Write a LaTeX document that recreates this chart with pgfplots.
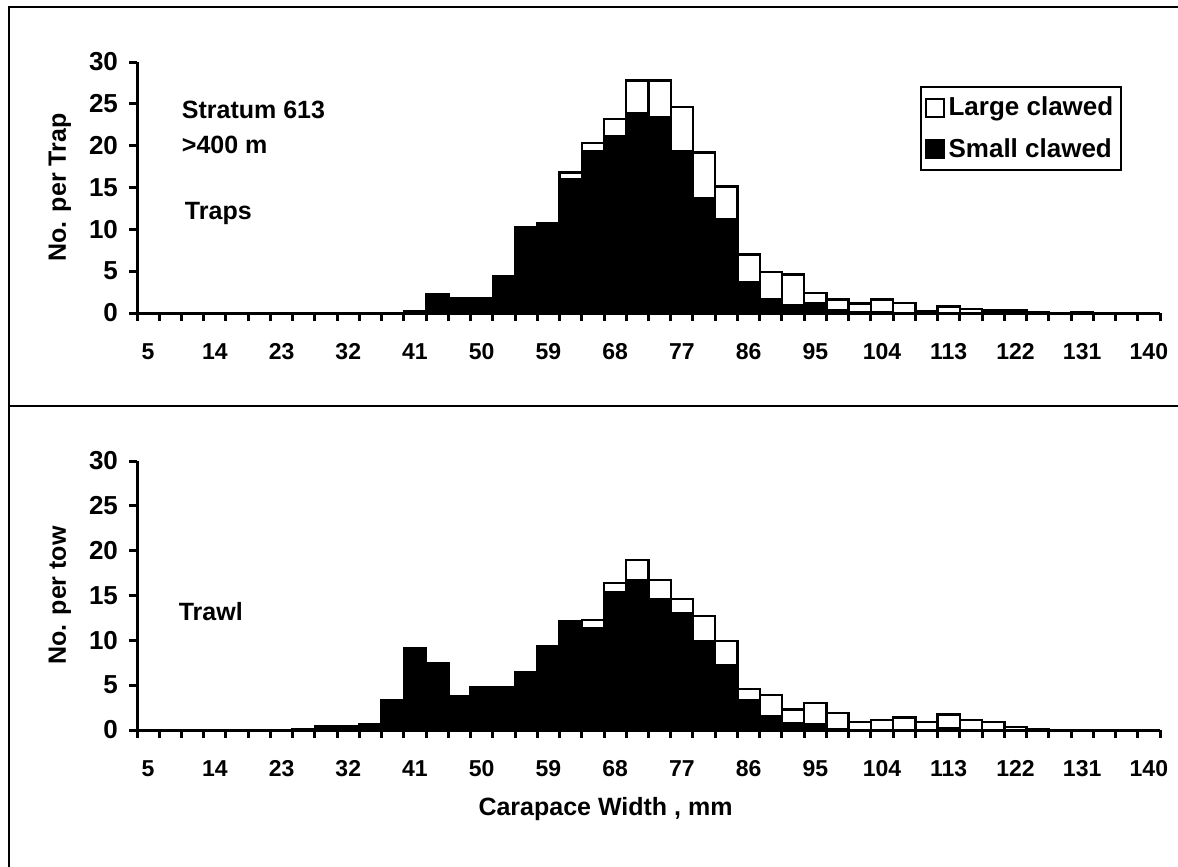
\documentclass[border=0pt]{standalone}
\usepackage{fontspec}
\setmainfont{Liberation Sans}
\usepackage{pgfplots}
\usepackage{pgfplotstable}
\pgfplotsset{compat=1.18}

\pgfplotstableread{
x small large
0.5 0 0
1.5 0 0
2.5 0 0
3.5 0 0
4.5 0 0
5.5 0 0
6.5 0 0
7.5 0 0
8.5 0 0
9.5 0 0
10.5 0 0
11.5 0 0
12.5 0.2 0
13.5 2.3 0
14.5 1.8 0
15.5 1.8 0
16.5 4.4 0
17.5 10.2 0
18.5 10.7 0
19.5 16.0 0.8
20.5 19.3 1.0
21.5 21.1 2.1
22.5 23.9 3.9
23.5 23.4 4.4
24.5 19.3 5.3
25.5 13.7 5.5
26.5 11.2 3.9
27.5 3.7 3.3
28.5 1.7 3.2
29.5 0.9 3.7
30.5 1.2 1.2
31.5 0.35 1.25
32.5 0.15 1.0
33.5 0.1 1.5
34.5 0 1.2
35.5 0 0.2
36.5 0 0.8
37.5 0 0.5
38.5 0 0.3
39.5 0 0.3
40.5 0 0.05
41.5 0 0
42.5 0 0.05
43.5 0 0
44.5 0 0
45.5 0 0
}\traps

\pgfplotstableread{
x small large
0.5 0 0
1.5 0 0
2.5 0 0
3.5 0 0
4.5 0 0
5.5 0 0
6.5 0 0
7.5 0.1 0
8.5 0.37 0
9.5 0.37 0
10.5 0.67 0
11.5 3.3 0
12.5 9.1 0
13.5 7.4 0
14.5 3.8 0
15.5 4.8 0
16.5 4.8 0
17.5 6.5 0
18.5 9.0 0.3
19.5 12.0 0.1
20.5 11.3 1.0
21.5 15.4 1.0
22.5 16.7 2.25
23.5 14.6 2.1
24.5 13.0 1.6
25.5 9.9 2.8
26.5 7.2 2.7
27.5 3.3 1.3
28.5 1.5 2.4
29.5 0.8 1.5
30.5 0.7 2.3
31.5 0.1 1.8
32.5 0 0.9
33.5 0 1.1
34.5 0 1.4
35.5 0 0.9
36.5 0.2 1.55
37.5 0 1.1
38.5 0 0.9
39.5 0 0.35
40.5 0 0.05
41.5 0 0
42.5 0 0
43.5 0 0
44.5 0 0
45.5 0 0
}\trawl

\newcommand{\tickfont}{\bfseries\fontsize{11.5}{13}\selectfont}
\newcommand{\ytickfont}{\bfseries\fontsize{13}{15}\selectfont}
\newcommand{\txtfont}{\bfseries\fontsize{12.5}{15}\selectfont}
\newcommand{\legfont}{\bfseries\fontsize{13}{15}\selectfont}

\pgfplotsset{
  panel/.style={
    scale only axis,
    width=511.5pt,
    xmin=0, xmax=46, ymin=0, ymax=30,
    axis x line*=bottom, axis y line*=left,
    axis line style={line width=1.5pt},
    ybar stacked, bar width=1,
    xtick={0,...,46}, xticklabels={},
    ytick={0,5,...,30},
    tick align=outside,
    major tick length=4pt,
    tick style={line width=1.5pt, black},
    /pgf/number format/assume math mode=true,
    yticklabel style={font=\ytickfont, xshift=-2pt},
    extra x ticks={0.5,3.5,...,45.5},
    extra x tick labels={5,14,23,32,41,50,59,68,77,86,95,104,113,122,131,140},
    extra x tick style={major tick length=0pt,
      tick label style={font=\tickfont, anchor=north, text height=8.5pt, text depth=0pt, yshift=-11pt}},
    ylabel style={at={(axis description cs:-0.0753,0.5)}, anchor=center, rotate=0, font=\txtfont},
    clip=false,
  },
  mybar/.style={draw=black, line width=1.2pt,
    legend image code/.code={\draw[##1, line width=1pt] (0pt,-4.5pt) rectangle (9pt,4.5pt);}},
}

\begin{document}
\begin{tikzpicture}
\path[use as bounding box] (0,0) rectangle (589pt,-433.5pt);
\draw[line width=1pt] (4.25pt,-433.5pt) -- (4.25pt,-3.5pt) -- (589pt,-3.5pt);
\draw[line width=1pt] (4.25pt,-202.75pt) -- (589pt,-202.75pt);

\begin{axis}[panel,
  at={(68.5pt,-156.5pt)}, anchor=south west,
  height=125.5pt,
  ylabel={No. per Trap},
  reverse legend,
  legend style={at={(axis description cs:0.765,0.906)}, anchor=north west,
    draw=black, line width=1pt, font=\legfont, row sep=6pt, inner xsep=2pt, inner ysep=3pt,
    cells={anchor=west}},
]
\addplot[mybar, fill=black] table[x=x, y=small]{\traps};
\addlegendentry{Small clawed}
\addplot[mybar, fill=white] table[x=x, y=large]{\traps};
\addlegendentry{Large clawed}
\node[anchor=west, font=\txtfont] at (axis description cs:0.037,0.809) {Stratum 613};
\node[anchor=west, font=\txtfont] at (axis description cs:0.037,0.669) {>400 m};
\node[anchor=west, font=\txtfont] at (axis description cs:0.040,0.398) {Traps};
\end{axis}

\begin{axis}[panel,
  at={(68.5pt,-365pt)}, anchor=south west,
  height=134.5pt,
  ylabel={No. per tow},
]
\addplot[mybar, fill=black] table[x=x, y=small]{\trawl};
\addplot[mybar, fill=white] table[x=x, y=large]{\trawl};
\node[anchor=west, font=\txtfont] at (axis description cs:0.034,0.439) {Trawl};
\node[anchor=center, font=\txtfont] at (axis description cs:0.458,-0.295) {Carapace Width , mm};
\end{axis}
\end{tikzpicture}
\end{document}
